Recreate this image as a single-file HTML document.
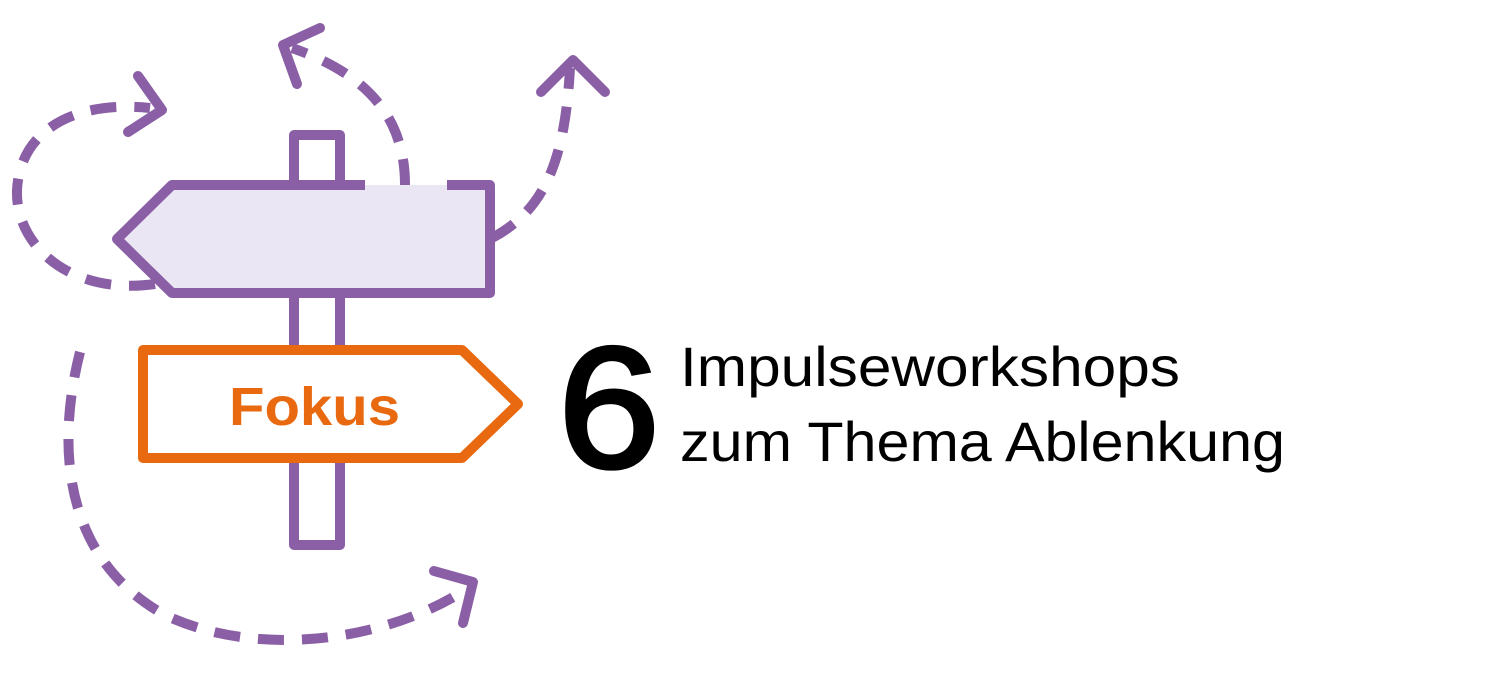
<!DOCTYPE html>
<html><head><meta charset="utf-8"><style>
html,body{margin:0;padding:0;background:#fff;}
body{width:1500px;height:676px;position:relative;overflow:hidden;font-family:"Liberation Sans",Arial,sans-serif;}
</style></head><body>
<svg width="1500" height="676" viewBox="0 0 1500 676" style="position:absolute;left:0;top:0">
<g fill="none" stroke="#8a5fa6" stroke-width="10" stroke-linecap="butt" stroke-linejoin="round">
 <rect x="294" y="135" width="46" height="410" fill="#fff"/>
 <polygon points="172,185 490,185 490,293 172,293 117,239" fill="#ebe6f4" stroke="none"/>
 <polyline points="365,185 172,185 117,239 172,293 490,293 490,185 447,185"/>
 <g stroke-dasharray="26 18">
  <path d="M155,284 C70,296 15,245 17,190 C20,130 75,100 150,108"/>
  <path d="M405,185 C405,120 370,75 292,48"/>
  <path d="M492,238 C545,210 565,160 570,68"/>
  <path d="M80,352 C55,450 65,560 165,615 C260,660 390,640 468,588"/>
 </g>
 <g stroke-width="10" stroke-linecap="round">
  <polyline points="138,76 162,110 128,132"/>
  <polyline points="320,28 283,45 297,84"/>
  <polyline points="541,92 573,60 605,92"/>
  <polyline points="434,571 473,582 463,623"/>
 </g>
</g>
<polygon points="143,350 462,350 518,404 462,458 143,458" fill="#fff" stroke="#e8690f" stroke-width="10" stroke-linejoin="round"/>
<text x="229" y="425" textLength="171" lengthAdjust="spacingAndGlyphs" font-family="Liberation Sans, Arial, sans-serif" font-weight="bold" font-size="54" fill="#e8690f">Fokus</text>
<text x="558" y="467" textLength="102" lengthAdjust="spacingAndGlyphs" font-family="Liberation Sans, Arial, sans-serif" font-size="172" fill="#000" stroke="#000" stroke-width="4">6</text>
<text x="680" y="386" textLength="500" lengthAdjust="spacingAndGlyphs" font-family="Liberation Sans, Arial, sans-serif" font-size="56" fill="#000">Impulseworkshops</text>
<text x="680" y="461" textLength="605" lengthAdjust="spacingAndGlyphs" font-family="Liberation Sans, Arial, sans-serif" font-size="56" fill="#000">zum Thema Ablenkung</text>
</svg>
</body></html>
